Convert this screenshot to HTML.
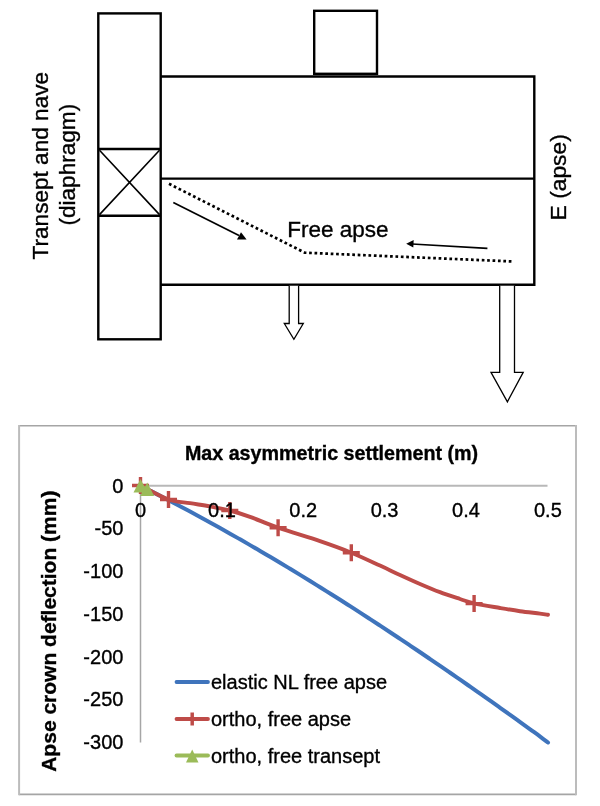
<!DOCTYPE html>
<html><head><meta charset="utf-8"><style>
html,body{margin:0;padding:0;background:#fff;}
body{width:600px;height:806px;overflow:hidden;}
svg{display:block;}
text{font-family:"Liberation Sans", Arial, sans-serif;stroke:#000;stroke-width:0.35px;}
</style></head><body>
<svg width="600" height="806" viewBox="0 0 600 806">
<rect width="600" height="806" fill="#fff"/>
<g fill="none" stroke="#000" stroke-width="2.4">
  <rect x="98.3" y="13.4" width="62.4" height="325.9"/>
  <path d="M160.7,76.5H534.3V284.7H160.7"/>
  <path d="M160.7,178.6H534.3"/>
  <rect x="314.2" y="10.8" width="62.8" height="63"/>
  <path d="M98.3,149H160.7M98.3,215.8H160.7"/>
</g>
<path d="M99.5,150.2L159.5,214.6M159.5,150.2L99.5,214.6" stroke="#000" stroke-width="1.6" fill="none"/>
<path d="M169,183.8L304.8,252.7L511.6,261.4" stroke="#000" stroke-width="2.7" stroke-dasharray="2.7 2.7" fill="none"/>
<path d="M173.3,202.5L239,235.5" stroke="#000" stroke-width="1.7"/>
<path d="M246.6,239.6L237,239.6L241,232.2Z" fill="#000"/>
<path d="M487.4,248.4L412,244" stroke="#000" stroke-width="1.7"/>
<path d="M406.2,243.8L413.7,240.1L413.3,247.4Z" fill="#000"/>
<g fill="#fff" stroke="#000" stroke-width="1.3">
  <path d="M289.2,285.8V323.5H284.3L293.9,339.3L303.3,323.5H298.6V285.8"/>
  <path d="M499.7,285.8V372.4H491L507.4,401.8L523.2,372.4H514.5V285.8"/>
</g>
<g font-size="22.6" fill="#000">
  <text transform="translate(47.8,165.7) rotate(-90)" text-anchor="middle">Transept and nave</text>
  <text transform="translate(75,164.7) rotate(-90)" text-anchor="middle">(diaphragm)</text>
  <text transform="translate(565.7,177.3) rotate(-90)" text-anchor="middle" font-size="22.8">E (apse)</text>
  <text x="287.3" y="236.7" font-size="22.5">Free apse</text>
</g>
<!-- chart -->
<path d="M19.1,425.7H576M19.1,794.4H576" stroke="#a5a5a5" stroke-width="1.6" fill="none"/>
<path d="M19.1,424.9V795.2M576,424.9V795.2" stroke="#bcbcbc" stroke-width="2" fill="none"/>
<path d="M140.5,485.8H547.5" stroke="#b8b8b8" stroke-width="2" fill="none"/>
<path d="M140.5,485.5V742.5" stroke="#a6a6a6" stroke-width="1.5" fill="none"/>
<path d="M140.50,485.50 C142.17,486.40 147.17,489.13 150.50,490.88 C153.83,492.63 157.17,494.28 160.50,496.00 C163.83,497.72 167.17,499.45 170.50,501.20 C173.83,502.94 177.17,504.70 180.50,506.47 C183.83,508.24 187.17,510.02 190.50,511.81 C193.83,513.61 197.17,515.41 200.50,517.23 C203.83,519.05 207.17,520.88 210.50,522.72 C213.83,524.56 217.17,526.41 220.50,528.27 C223.83,530.14 227.17,532.02 230.50,533.90 C233.83,535.79 237.17,537.69 240.50,539.60 C243.83,541.51 247.17,543.43 250.50,545.36 C253.83,547.29 257.17,549.24 260.50,551.19 C263.83,553.14 267.17,555.11 270.50,557.08 C273.83,559.06 277.17,561.04 280.50,563.04 C283.83,565.03 287.17,567.04 290.50,569.06 C293.83,571.08 297.17,573.10 300.50,575.14 C303.83,577.18 307.17,579.22 310.50,581.28 C313.83,583.34 317.17,585.41 320.50,587.48 C323.83,589.56 327.17,591.65 330.50,593.74 C333.83,595.84 337.17,597.94 340.50,600.06 C343.83,602.17 347.17,604.30 350.50,606.43 C353.83,608.57 357.17,610.71 360.50,612.86 C363.83,615.01 367.17,617.17 370.50,619.34 C373.83,621.51 377.17,623.69 380.50,625.88 C383.83,628.07 387.17,630.26 390.50,632.47 C393.83,634.67 397.17,636.88 400.50,639.10 C403.83,641.32 407.17,643.55 410.50,645.79 C413.83,648.03 417.17,650.28 420.50,652.53 C423.83,654.78 427.17,657.04 430.50,659.31 C433.83,661.58 437.17,663.86 440.50,666.14 C443.83,668.43 447.17,670.72 450.50,673.02 C453.83,675.32 457.17,677.63 460.50,679.94 C463.83,682.26 467.17,684.58 470.50,686.91 C473.83,689.23 477.17,691.57 480.50,693.91 C483.83,696.25 487.17,698.60 490.50,700.96 C493.83,703.32 497.17,705.68 500.50,708.05 C503.83,710.42 507.17,712.79 510.50,715.18 C513.83,717.56 517.17,719.95 520.50,722.34 C523.83,724.73 527.17,727.14 530.50,729.54 C533.83,731.95 537.58,734.62 540.50,736.78 C543.42,738.94 546.75,741.55 548.00,742.50" stroke="#3F74BC" stroke-width="4" fill="none" stroke-linecap="round"/>
<path d="M140.50,485.50 C145.17,487.83 160.25,496.55 168.50,499.50 C176.75,502.45 183.08,502.07 190.00,503.20 C196.92,504.33 203.37,505.08 210.00,506.30 C216.63,507.52 223.13,508.75 229.80,510.50 C236.47,512.25 241.95,513.93 250.00,516.80 C258.05,519.67 266.43,523.63 278.10,527.70 C289.77,531.77 307.80,537.03 320.00,541.20 C332.20,545.37 341.30,548.63 351.30,552.70 C361.30,556.77 371.88,561.88 380.00,565.60 C388.12,569.32 393.33,571.93 400.00,575.00 C406.67,578.07 413.33,581.13 420.00,584.00 C426.67,586.87 433.33,589.70 440.00,592.20 C446.67,594.70 454.32,597.13 460.00,599.00 C465.68,600.87 467.43,601.90 474.10,603.40 C480.77,604.90 492.35,606.70 500.00,608.00 C507.65,609.30 513.33,610.27 520.00,611.20 C526.67,612.13 535.33,613.00 540.00,613.60 C544.67,614.20 546.67,614.60 548.00,614.80" stroke="#BE4B48" stroke-width="3.9" fill="none" stroke-linecap="round"/>
<path d="M132.0,485.5H149.0M140.5,477.0V494.0" stroke="#BE4B48" stroke-width="3.4" fill="none"/><path d="M160.0,499.5H177.0M168.5,491.0V508.0" stroke="#BE4B48" stroke-width="3.4" fill="none"/><path d="M221.3,510.5H238.3M229.8,502.0V519.0" stroke="#BE4B48" stroke-width="3.4" fill="none"/><path d="M269.6,527.7H286.6M278.1,519.2V536.2" stroke="#BE4B48" stroke-width="3.4" fill="none"/><path d="M342.8,552.7H359.8M351.3,544.2V561.2" stroke="#BE4B48" stroke-width="3.4" fill="none"/><path d="M465.6,603.6H482.6M474.1,595.1V612.1" stroke="#BE4B48" stroke-width="3.4" fill="none"/>
<path d="M140.5,486L147,489.5" stroke="#9BBB59" stroke-width="3.6"/>
<path d="M140.5,478.9L147.5,492.4L133.5,492.4Z" fill="#9BBB59"/><path d="M147.2,482.4L154.2,495.9L140.2,495.9Z" fill="#9BBB59"/>
<text x="331.5" y="460.3" font-size="19.7" font-weight="bold" text-anchor="middle">Max asymmetric settlement (m)</text>
<g font-size="20" text-anchor="middle">
  <text x="140.5" y="517">0</text>
  <text x="222" y="517">0.1</text>
  <text x="303.2" y="517">0.2</text>
  <text x="384.6" y="517">0.3</text>
  <text x="466" y="517">0.4</text>
  <text x="547.9" y="517">0.5</text>
</g>
<g font-size="20" text-anchor="end">
  <text x="123.4" y="492.5">0</text>
  <text x="123.4" y="535.2">-50</text>
  <text x="123.4" y="578">-100</text>
  <text x="123.4" y="620.8">-150</text>
  <text x="123.4" y="663.6">-200</text>
  <text x="123.4" y="706.4">-250</text>
  <text x="123.4" y="749.2">-300</text>
</g>
<text transform="translate(56.3,631.2) rotate(-90)" text-anchor="middle" font-size="21" font-weight="bold">Apse crown deflection (mm)</text>
<path d="M176.5,682H208" stroke="#3F74BC" stroke-width="3.8" stroke-linecap="round"/>
<path d="M176.5,719H208" stroke="#BE4B48" stroke-width="3.8" stroke-linecap="round"/>
<path d="M192.2,712.5V725.5" stroke="#BE4B48" stroke-width="3.5"/>
<path d="M176.5,755.5H208" stroke="#9BBB59" stroke-width="3.8" stroke-linecap="round"/>
<path d="M192.2,749.5L198.5,762.5L186,762.5Z" fill="#9BBB59"/>
<g font-size="20">
  <text x="211" y="688.5">elastic NL free apse</text>
  <text x="211" y="725.5">ortho, free apse</text>
  <text x="211" y="762.5">ortho, free transept</text>
</g>
</svg>
</body></html>
